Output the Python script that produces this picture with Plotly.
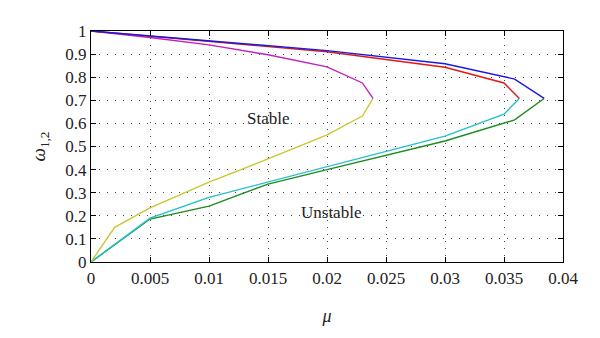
import plotly.graph_objects as go

# Upper branches
blue_mu = [0, 0.01, 0.02, 0.03, 0.0359, 0.0384]
blue_w = [1.0, 0.958, 0.915, 0.858, 0.792, 0.708]
red_mu = [0, 0.01, 0.02, 0.03, 0.035, 0.0363]
red_w = [1.0, 0.956, 0.91, 0.843, 0.775, 0.708]
mag_mu = [0, 0.005, 0.01, 0.015, 0.02, 0.023, 0.0239]
mag_w = [1.0, 0.972, 0.94, 0.897, 0.845, 0.775, 0.708]
# Lower branches
green_mu = [0, 0.005, 0.01, 0.015, 0.02, 0.03, 0.0359, 0.0384]
green_w = [0.0, 0.186, 0.242, 0.337, 0.40, 0.524, 0.615, 0.708]
cyan_mu = [0, 0.005, 0.01, 0.015, 0.02, 0.03, 0.035, 0.0363]
cyan_w = [0.0, 0.19, 0.28, 0.346, 0.415, 0.545, 0.64, 0.708]
yel_mu = [0, 0.002, 0.005, 0.01, 0.015, 0.02, 0.023, 0.0239]
yel_w = [0.0, 0.15, 0.234, 0.346, 0.446, 0.55, 0.632, 0.708]

x_ticks = [0, 0.005, 0.01, 0.015, 0.02, 0.025, 0.03, 0.035, 0.04]
x_labels = ["0", "0.005", "0.01", "0.015", "0.02", "0.025", "0.03", "0.035", "0.04"]
y_ticks = [0, 0.1, 0.2, 0.3, 0.4, 0.5, 0.6, 0.7, 0.8, 0.9, 1]
y_labels = ["0", "0.1", "0.2", "0.3", "0.4", "0.5", "0.6", "0.7", "0.8", "0.9", "1"]

series = [
    (green_mu, green_w, "#1f8a1f"),
    (cyan_mu, cyan_w, "#22c0c8"),
    (yel_mu, yel_w, "#c8c832"),
    (mag_mu, mag_w, "#c020c0"),
    (red_mu, red_w, "#e01818"),
    (blue_mu, blue_w, "#1818e0"),
]

fig = go.Figure()
for xs, ys, c in series:
    fig.add_trace(go.Scatter(x=xs, y=ys, mode="lines",
                             line=dict(color=c, width=1.4), showlegend=False))

font = "Liberation Serif"
tickfont = dict(family=font, size=17, color="#222")
fig.update_layout(
    width=600, height=338,
    margin=dict(l=83, r=45, t=23, b=84),
    paper_bgcolor="white", plot_bgcolor="white",
    font=dict(family=font, size=17, color="#222"),
    annotations=[
        dict(x=0.015, y=0.623, text="Stable", showarrow=False,
             font=dict(family=font, size=17, color="#222")),
        dict(x=0.0203, y=0.216, text="Unstable", showarrow=False,
             font=dict(family=font, size=17, color="#222")),
    ],
)
fig.update_xaxes(
    range=[0, 0.04], tickvals=x_ticks, ticktext=x_labels, tickfont=tickfont,
    showline=True, linecolor="black", linewidth=1.2, mirror="ticks",
    ticks="inside", ticklen=5, tickcolor="black",
    showgrid=True, gridcolor="#444", gridwidth=1, griddash="1px,6px",
    zeroline=False,
    title=dict(text="<i>μ</i>", font=dict(family=font, size=18), standoff=22),
)
fig.update_yaxes(
    range=[0, 1], tickvals=y_ticks, ticktext=y_labels, tickfont=tickfont,
    showline=True, linecolor="black", linewidth=1.2, mirror="ticks",
    ticks="inside", ticklen=5, tickcolor="black",
    showgrid=True, gridcolor="#444", gridwidth=1, griddash="1px,7px",
    zeroline=False,
    title=dict(text="<i>ω</i><sub>1,2</sub>", font=dict(family=font, size=19), standoff=14),
)

fig.write_html("out.html")
